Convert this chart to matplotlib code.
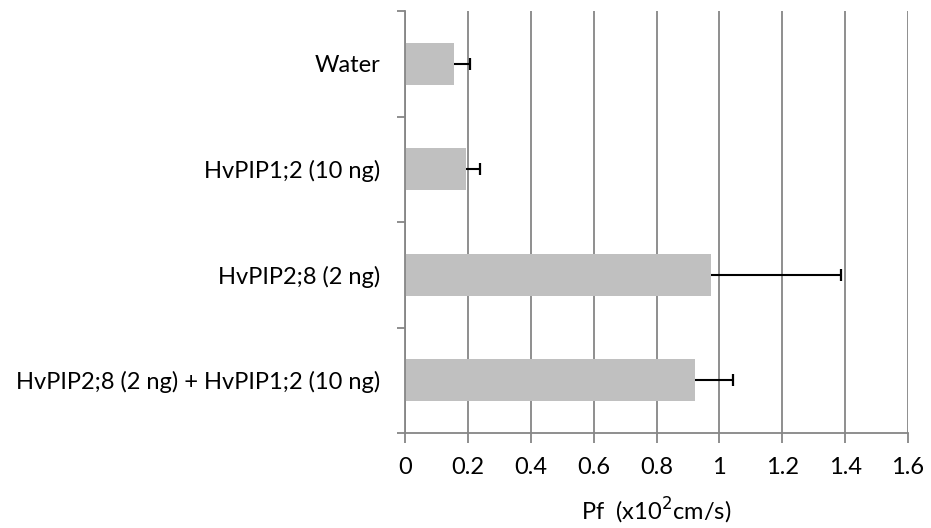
import matplotlib.pyplot as plt
import numpy as np

plt.rcParams['font.family'] = ['Lato', 'DejaVu Sans']

# data (top to bottom as drawn)
labels = ["Water", "HvPIP1;2 (10 ng)", "HvPIP2;8 (2 ng)",
          "HvPIP2;8 (2 ng) + HvPIP1;2 (10 ng)"]
pf = [0.155, 0.193, 0.972, 0.924]
pf_err = [0.053, 0.047, 0.416, 0.119]
x_ticks = [0, 0.2, 0.4, 0.6, 0.8, 1, 1.2, 1.4, 1.6]
x_ticklabels = ["0", "0.2", "0.4", "0.6", "0.8", "1", "1.2", "1.4", "1.6"]

grid_col = "#868686"
fs = 17

fig = plt.figure(figsize=(9.31, 5.28), dpi=100)
ax = fig.add_axes([405 / 931, 95 / 528, 503 / 931, 422 / 528])

y = np.arange(len(labels))
ax.barh(y, pf, height=0.4, color="#c0c0c0", zorder=2)

# plus-only error bars (line from bar end + cap)
err_end = np.array(pf) + np.array(pf_err)
ax.hlines(y, pf, err_end, color="black", linewidth=1.5, zorder=3)
ax.plot(err_end, y, linestyle="none", marker="|", markersize=8.6,
        markeredgewidth=1.6, color="black", zorder=3)

ax.set_xlim(0, 1.6)
ax.set_ylim(len(labels) - 0.5, -0.5)

ax.set_xticks(x_ticks)
ax.set_xticklabels(x_ticklabels, fontsize=fs)
ax.set_yticks(y)
ax.set_yticklabels(labels, fontsize=fs)
ax.set_yticks(np.arange(-0.5, len(labels)), minor=True)

ax.tick_params(axis="y", which="major", length=0, pad=18)
ax.tick_params(axis="y", which="minor", length=6, width=1.3, color=grid_col)
ax.tick_params(axis="x", which="major", length=7, width=1.3, color=grid_col, pad=10)

ax.xaxis.grid(True, color=grid_col, linewidth=1.3, zorder=0)
ax.set_axisbelow(True)

for s in ["top", "right"]:
    ax.spines[s].set_visible(False)
for s in ["left", "bottom"]:
    ax.spines[s].set_color(grid_col)
    ax.spines[s].set_linewidth(1.3)

ax.set_xlabel("Pf  (x10$^{2}$cm/s)", fontsize=fs, labelpad=13)

fig.savefig("out.png", dpi=100)
